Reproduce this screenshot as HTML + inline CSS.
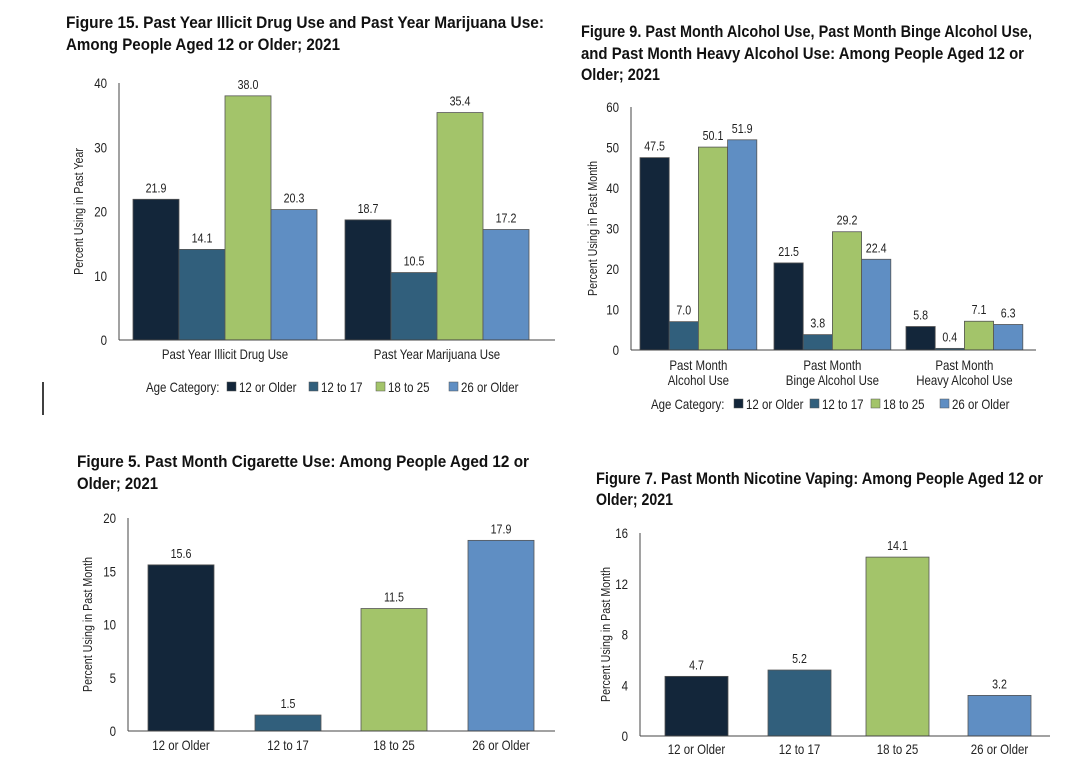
<!DOCTYPE html>
<html><head><meta charset="utf-8">
<style>
html,body{margin:0;padding:0;background:#fff;}
svg{display:block;font-family:"Liberation Sans",sans-serif;}
.t{font-family:"Liberation Sans",sans-serif;font-weight:bold;font-size:17px;fill:#111;}
</style></head>
<body>
<svg id="s" width="1080" height="772" viewBox="0 0 1080 772">
<text class="t" x="66" y="28" textLength="478" lengthAdjust="spacingAndGlyphs">Figure 15. Past Year Illicit Drug Use and Past Year Marijuana Use:</text>
<text class="t" x="66" y="50" textLength="274" lengthAdjust="spacingAndGlyphs">Among People Aged 12 or Older; 2021</text>
<text class="t" x="581" y="37" textLength="451" lengthAdjust="spacingAndGlyphs">Figure 9. Past Month Alcohol Use, Past Month Binge Alcohol Use,</text>
<text class="t" x="581" y="59" textLength="443" lengthAdjust="spacingAndGlyphs">and Past Month Heavy Alcohol Use: Among People Aged 12 or</text>
<text class="t" x="581" y="80" textLength="79" lengthAdjust="spacingAndGlyphs">Older; 2021</text>
<text class="t" x="77" y="467" textLength="452" lengthAdjust="spacingAndGlyphs">Figure 5. Past Month Cigarette Use: Among People Aged 12 or</text>
<text class="t" x="77" y="489" textLength="81" lengthAdjust="spacingAndGlyphs">Older; 2021</text>
<text class="t" x="596" y="484" textLength="447" lengthAdjust="spacingAndGlyphs">Figure 7. Past Month Nicotine Vaping: Among People Aged 12 or</text>
<text class="t" x="596" y="505" textLength="77" lengthAdjust="spacingAndGlyphs">Older; 2021</text>
<line x1="43" y1="382" x2="43" y2="415" stroke="#000" stroke-width="1.5"/>
</svg>
<script>
const ageCats = ["12 or Older","12 to 17","18 to 25","26 or Older"];
const colors = ["#13263a","#315f7c","#a3c46a","#5f8ec3"];
// Figure 15
const f15Cats = ["Past Year Illicit Drug Use","Past Year Marijuana Use"];
const f15_12older = [21.9,18.7];
const f15_12to17 = [14.1,10.5];
const f15_18to25 = [38.0,35.4];
const f15_26older = [20.3,17.2];
const f15Ticks = [0,10,20,30,40];
// Figure 9
const f9Cats = [["Past Month","Alcohol Use"],["Past Month","Binge Alcohol Use"],["Past Month","Heavy Alcohol Use"]];
const f9_12older = [47.5,21.5,5.8];
const f9_12to17 = [7.0,3.8,0.4];
const f9_18to25 = [50.1,29.2,7.1];
const f9_26older = [51.9,22.4,6.3];
const f9Ticks = [0,10,20,30,40,50,60];
// Figure 5
const f5Values = [15.6,1.5,11.5,17.9];
const f5Ticks = [0,5,10,15,20];
// Figure 7
const f7Values = [4.7,5.2,14.1,3.2];
const f7Ticks = [0,4,8,12,16];

const svg = document.getElementById('s');
const NS = "http://www.w3.org/2000/svg";
const narrow = [];
function mk(tag, attrs, txt){
  const e = document.createElementNS(NS, tag);
  for (const k in attrs) e.setAttribute(k, attrs[k]);
  if (txt !== undefined) e.textContent = txt;
  svg.appendChild(e);
  if (tag === 'text') narrow.push(e);
  return e;
}
function chart(o){
  const ymax = o.ticks[o.ticks.length-1];
  const y = v => o.y0 - (v/ymax)*(o.y0-o.yTop);
  o.ticks.forEach(t=>{
    const e = mk('text',{x:o.axisX-12,y:y(t)+5,'text-anchor':'end','font-size':14,fill:'#222'},String(t));
    
    
  });
  const yl = mk('text',{x:0,y:0,transform:`translate(${o.ylabX},${(o.y0+o.yTop)/2}) rotate(-90)`,'text-anchor':'middle','font-size':13,fill:'#222'},o.ylab);
  
  
  o.series.forEach((vals,si)=>{
    vals.forEach((v,ci)=>{
      const x = o.groupX[ci] + si*o.bw;
      const r = mk('rect',{x:x,y:y(v),width:o.bw,height:o.y0-y(v),fill:o.colorFor(si,ci),stroke:'#555','stroke-width':0.8});
      
      
      const l = mk('text',{x:x+o.bw/2,y:y(v)-7,'text-anchor':'middle','font-size':13,fill:'#222'},v.toFixed(1));
      
      
    });
  });
  const ax = mk('line',{x1:o.axisX,y1:o.yTop,x2:o.axisX,y2:o.y0,stroke:'#444','stroke-width':1});
  
  
  const bx = mk('line',{x1:o.axisX,y1:o.y0,x2:o.axisEnd,y2:o.y0,stroke:'#444','stroke-width':1});
  
  
  o.cats.forEach((c,ci)=>{
    const cx = o.groupX[ci] + o.series.length*o.bw/2;
    const lines = Array.isArray(c)?c:[c];
    lines.forEach((ln,li)=>{
      const e = mk('text',{x:cx,y:o.y0+o.catDy+li*15,'text-anchor':'middle','font-size':14,fill:'#222'},ln);
      
      
    });
  });
  if (o.legend){
    const lg = o.legend;
    const t = mk('text',{x:lg.x,y:lg.y,'font-size':14,fill:'#222'},'Age Category:');
    
    
    ageCats.forEach((a,i)=>{
      const lx = lg.xs[i];
      const s = mk('rect',{x:lx,y:lg.y-10,width:9,height:9,fill:colors[i],stroke:'#555','stroke-width':0.5});
      
      
      const e = mk('text',{x:lx+12,y:lg.y,'font-size':14,fill:'#222'},a);
      
      
    });
  }
}
chart({id:'fig15',y0:340,yTop:83,axisX:119,axisEnd:555,ylabX:83,ylab:'Percent Using in Past Year',
  ticks:f15Ticks,series:[f15_12older,f15_12to17,f15_18to25,f15_26older],groupX:[133,345],bw:46,
  cats:f15Cats,catDy:19,colorFor:(si)=>colors[si],
  legend:{x:146,y:392,xs:[227,309,376,449]}});
chart({id:'fig9',y0:350,yTop:107,axisX:631,axisEnd:1036,ylabX:597,ylab:'Percent Using in Past Month',
  ticks:f9Ticks,series:[f9_12older,f9_12to17,f9_18to25,f9_26older],groupX:[640,774,906],bw:29.2,
  cats:f9Cats,catDy:20,colorFor:(si)=>colors[si],
  legend:{x:651,y:409,xs:[734,810,871,940]}});
chart({id:'fig5',y0:731,yTop:518,axisX:128,axisEnd:555,ylabX:92,ylab:'Percent Using in Past Month',
  ticks:f5Ticks,series:[f5Values],groupX:[148,255,361,468],bw:66,
  cats:ageCats,catDy:19,colorFor:(si,ci)=>colors[ci]});
chart({id:'fig7',y0:736,yTop:533,axisX:640,axisEnd:1050,ylabX:610,ylab:'Percent Using in Past Month',
  ticks:f7Ticks,series:[f7Values],groupX:[665,768,866,968],bw:63,
  cats:ageCats,catDy:18,colorFor:(si,ci)=>colors[ci]});
narrow.forEach(e=>{
  const w = e.getComputedTextLength();
  e.setAttribute('textLength', (w*0.82).toFixed(1));
  e.setAttribute('lengthAdjust', 'spacingAndGlyphs');
});
</script>
</body></html>
